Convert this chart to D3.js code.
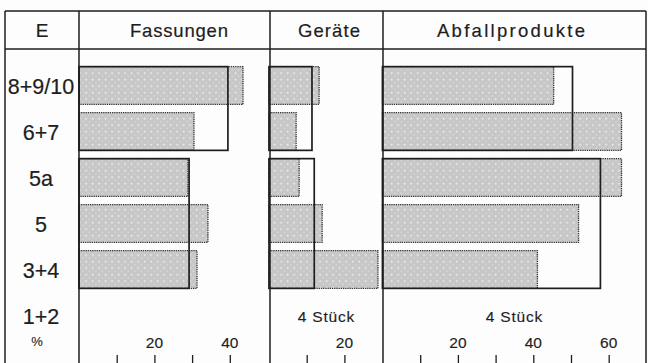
<!DOCTYPE html>
<html>
<head>
<meta charset="utf-8">
<script src="https://cdn.jsdelivr.net/npm/d3@7"></script>
<style>
  html, body { margin: 0; padding: 0; background: #fdfdfd; }
  svg { display: block; font-family: "Liberation Sans", Arial, Helvetica, sans-serif; }
</style>
</head>
<body>
<svg id="chart" width="648" height="363"></svg>
<script>
// Layers (E) from top to bottom
const rows = ["8+9/10", "6+7", "5a", "5", "3+4", "1+2"];

// Percentages per layer (shaded bars)
const fassungen = [43.5, 30.5, 28.9, 34.2, 31.3, null];
const geraete   = [13.3, 7.2, 8.0, 14.1, 28.9, null];
const abfall    = [45.4, 63.4, 63.4, 52.0, 41.1, null];

// Combined layer groups (outlined bars)
const groupRows      = [["8+9/10", "6+7"], ["5a", "5", "3+4"]];
const fassungenGroup = [39.5, 29.2];
const geraeteGroup   = [11.4, 12.0];
const abfallGroup    = [50.4, 57.8];

// Panel headings, tick labels and the note for layer 1+2
const panelTitles = ["Fassungen", "Geräte", "Abfallprodukte"];
const fassungenTicks = [10, 20, 30, 40];
const geraeteTicks   = [10, 20];
const abfallTicks    = [10, 20, 30, 40, 50, 60];
const fassungenLabels = [20, 40];
const geraeteLabels   = [20];
const abfallLabels    = [20, 40, 60];
const rowNote = ["", "4 Stück", "4 Stück"];

const svg = d3.select("#chart");
const ink = "#1e1e1e";

// dotted screen fill
const defs = svg.append("defs");
const pat = defs.append("pattern")
  .attr("id", "screen").attr("patternUnits", "userSpaceOnUse")
  .attr("width", 6.5).attr("height", 6.5);
pat.append("rect").attr("width", 6.5).attr("height", 6.5).attr("fill", "#c7c7c7");
pat.append("circle").attr("cx", 1.6).attr("cy", 1.6).attr("r", 0.95).attr("fill", "#efefef");
pat.append("circle").attr("cx", 4.85).attr("cy", 4.85).attr("r", 0.75).attr("fill", "#dfdfdf");

const frame = { left: 5, right: 646, top: 11, head: 49, bottom: 363 };
const pxPerUnit = 3.77;

const panels = [
  { title: panelTitles[0], x0: 79,  x1: 270, zero: 79,    vals: fassungen, grp: fassungenGroup, ticks: fassungenTicks, labels: fassungenLabels, note: rowNote[0], tl: 98,  cx: 179 },
  { title: panelTitles[1], x0: 270, x1: 383, zero: 269,   vals: geraete,   grp: geraeteGroup,   ticks: geraeteTicks,   labels: geraeteLabels,   note: rowNote[1], tl: 62,  cx: 329 },
  { title: panelTitles[2], x0: 383, x1: 646, zero: 382.5, vals: abfall,    grp: abfallGroup,    ticks: abfallTicks,    labels: abfallLabels,    note: rowNote[2], tl: 148, cx: 511 }
];

const y = d3.scaleBand().domain(rows).range([62.5, 338.5])
  .paddingInner(0.18).paddingOuter(0.09);

// slightly heavy type, like offset print
const heavy = sel => sel.attr("fill", ink).attr("stroke", ink).attr("stroke-width", 0.2);

// row labels column
svg.append("text").attr("x", 42).attr("y", 37).attr("text-anchor", "middle")
  .attr("font-size", 19).call(heavy).text("E");

svg.selectAll("text.row").data(rows).join("text")
  .attr("class", "row")
  .attr("x", 41).attr("y", d => y(d) + y.bandwidth() / 2 + 8)
  .attr("text-anchor", "middle").attr("font-size", 21.5).call(heavy)
  .text(d => d);

svg.append("text").attr("x", 37).attr("y", 346).attr("text-anchor", "middle")
  .attr("font-size", 13).call(heavy).attr("stroke-width", 0.1).text("%");

panels.forEach(p => {
  const x = d3.scaleLinear()
    .domain([0, (p.x1 - p.zero) / pxPerUnit])
    .range([p.zero, p.x1]);
  const g = svg.append("g");

  // shaded bars
  const data = rows.map((r, i) => ({ r, v: p.vals[i] })).filter(d => d.v != null);
  g.selectAll("rect.bar").data(data).join("rect")
    .attr("class", "bar")
    .attr("x", x(0)).attr("y", d => y(d.r))
    .attr("width", d => x(d.v) - x(0)).attr("height", y.bandwidth())
    .attr("fill", "url(#screen)")
    .attr("stroke", "#333").attr("stroke-width", 1.3)
    .attr("stroke-dasharray", "1.3,0.9");

  // outlined group bars
  const gdata = groupRows.map((rs, i) => ({ rs, v: p.grp[i] }));
  g.selectAll("rect.grp").data(gdata).join("rect")
    .attr("class", "grp")
    .attr("x", x(0)).attr("y", d => y(d.rs[0]))
    .attr("width", d => x(d.v) - x(0))
    .attr("height", d => y(d.rs[d.rs.length - 1]) + y.bandwidth() - y(d.rs[0]))
    .attr("fill", "none").attr("stroke", ink).attr("stroke-width", 1.7);

  // heading
  svg.append("text")
    .attr("x", p.cx).attr("y", 37).attr("text-anchor", "middle")
    .attr("font-size", 18.5).call(heavy)
    .attr("textLength", p.tl).attr("lengthAdjust", "spacing")
    .text(p.title);

  // note in layer 1+2
  if (p.note) {
    svg.append("text")
      .attr("x", (p.x0 + p.x1) / 2).attr("y", y("1+2") + y.bandwidth() / 2 + 6)
      .attr("text-anchor", "middle").attr("font-size", 15.5)
      .attr("letter-spacing", 0.8).call(heavy).attr("stroke-width", 0.15)
      .text(p.note);
  }

  // axis ticks along the bottom edge
  const axis = d3.axisBottom(x).tickValues(p.ticks).tickSize(8).tickFormat("");
  const ag = svg.append("g").attr("transform", "translate(0,355)").call(axis);
  ag.select(".domain").remove();
  ag.selectAll(".tick line").attr("stroke", ink).attr("stroke-width", 1.3)
    .attr("y1", 0).attr("y2", 8);

  svg.selectAll(null).data(p.labels).join("text")
    .attr("x", d => x(d)).attr("y", 348)
    .attr("text-anchor", "middle").attr("font-size", 15.5).call(heavy)
    .attr("stroke-width", 0.15)
    .text(d => d);
});

// frame and panel rules
const rules = svg.append("g").attr("stroke", ink).attr("stroke-width", 1.5).attr("fill", "none");
rules.append("line").attr("x1", frame.left).attr("x2", frame.right).attr("y1", frame.top).attr("y2", frame.top);
rules.append("line").attr("x1", frame.left).attr("x2", frame.right).attr("y1", frame.head).attr("y2", frame.head);
[frame.left, 79, 270, 383, frame.right].forEach(xv => {
  rules.append("line").attr("x1", xv).attr("x2", xv).attr("y1", frame.top).attr("y2", frame.bottom);
});
</script>
</body>
</html>
